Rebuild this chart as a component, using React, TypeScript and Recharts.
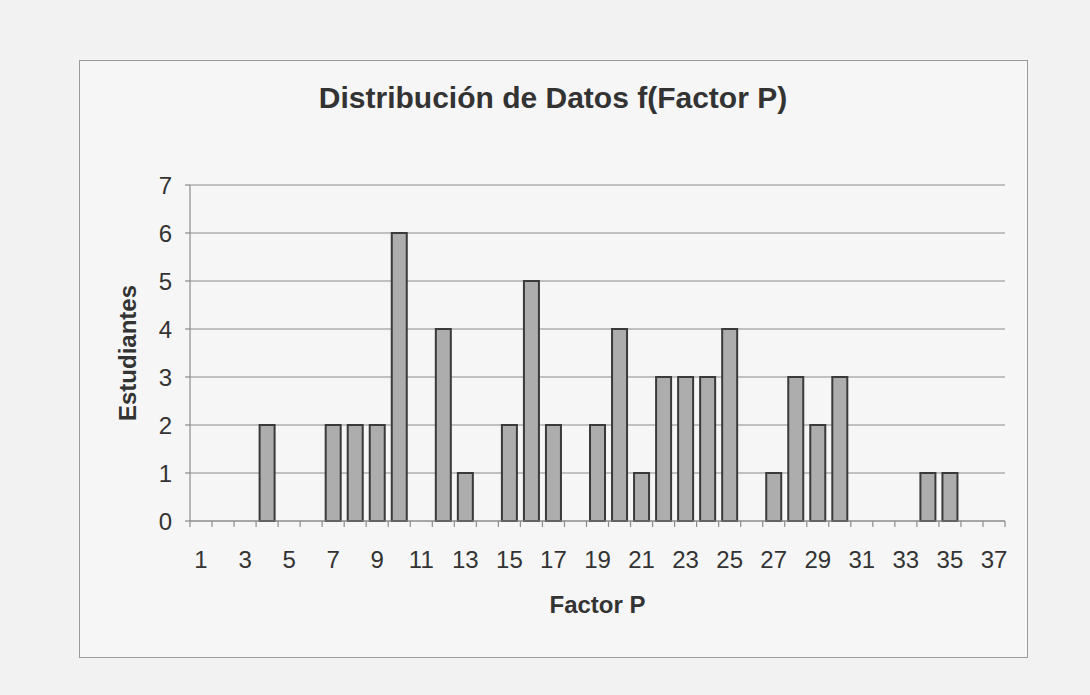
import React from 'react';
import { BarChart, Bar, XAxis, YAxis, CartesianGrid } from 'recharts';

const categories = ['1','2','3','4','5','6','7','8','9','10','11','12','13','14','15','16','17','18','19','20','21','22','23','24','25','26','27','28','29','30','31','32','33','34','35','36','37'];
const estudiantes = [0,0,0,2,0,0,2,2,2,6,0,4,1,0,2,5,2,0,2,4,1,3,3,3,4,0,1,3,2,3,0,0,0,1,1,0,0];
const xTickLabels = ['1','3','5','7','9','11','13','15','17','19','21','23','25','27','29','31','33','35','37'];
const yTicks = [0,1,2,3,4,5,6,7];

const data = categories.map((c, i) => ({ factor: c, estudiantes: estudiantes[i] }));

const FONT = '"Liberation Sans", Arial, sans-serif';
const AXIS_COLOR = '#8c8c8c';

const XTick = (props: any) => {
  const { x, y, payload, index } = props;
  const half = payload && typeof payload.offset === 'number' && payload.offset > 0 ? payload.offset : 11;
  const isLast = index === categories.length - 1;
  const showLabel = xTickLabels.includes(String(payload.value));
  return (
    <g>
      <line x1={x - half} x2={x - half} y1={y} y2={y + 6} stroke={AXIS_COLOR} strokeWidth={1.2} />
      {isLast && <line x1={x + half} x2={x + half} y1={y} y2={y + 6} stroke={AXIS_COLOR} strokeWidth={1.2} />}
      {showLabel && (
        <text x={x} y={y + 47} textAnchor="middle" fontFamily={FONT} fontSize={24} fill="#333">
          {payload.value}
        </text>
      )}
    </g>
  );
};

export default function App() {
  return (
    <div style={{ position: 'absolute', left: 0, top: 0, width: 1090, height: 695, background: '#f2f2f2', overflow: 'hidden' }}>
      <div style={{ position: 'absolute', left: 79, top: 60, width: 947, height: 596, border: '1.5px solid #9a9a9a', background: '#f6f6f6' }} />
      <div style={{ position: 'absolute', left: 0, top: 0 }}>
        <BarChart
          width={1090}
          height={695}
          data={data}
          margin={{ top: 185, right: 85, bottom: 74, left: 64 }}
          barCategoryGap="16%"
        >
          <CartesianGrid vertical={false} stroke="#8a8a8a" strokeWidth={1.2} />
          <XAxis
            dataKey="factor"
            interval={0}
            height={100}
            tickLine={false}
            tickSize={0}
            tickMargin={0}
            stroke={AXIS_COLOR}
            strokeWidth={1.2}
            tick={<XTick />}
            label={{ value: 'Factor P', position: 'insideTop', offset: 75, fontFamily: FONT, fontSize: 24, fontWeight: 'bold', fill: '#333' }}
          />
          <YAxis
            domain={[0, 7]}
            ticks={yTicks}
            width={126}
            tickSize={5}
            tickMargin={13}
            stroke={AXIS_COLOR}
            strokeWidth={1.2}
            tick={{ fontFamily: FONT, fontSize: 24, fill: '#333' }}
            label={{ value: 'Estudiantes', angle: -90, position: 'center', fontFamily: FONT, fontSize: 24, fontWeight: 'bold', fill: '#333' }}
          />
          <Bar dataKey="estudiantes" fill="#adadad" stroke="#3a3a3a" strokeWidth={2} isAnimationActive={false} />
        </BarChart>
      </div>
      <svg width={1090} height={695} style={{ position: 'absolute', left: 0, top: 0, pointerEvents: 'none' }}>
        <text x={553} y={108} textAnchor="middle" fontFamily={FONT} fontSize={30} fontWeight="bold" fill="#333">
          Distribución de Datos f(Factor P)
        </text>
      </svg>
    </div>
  );
}
